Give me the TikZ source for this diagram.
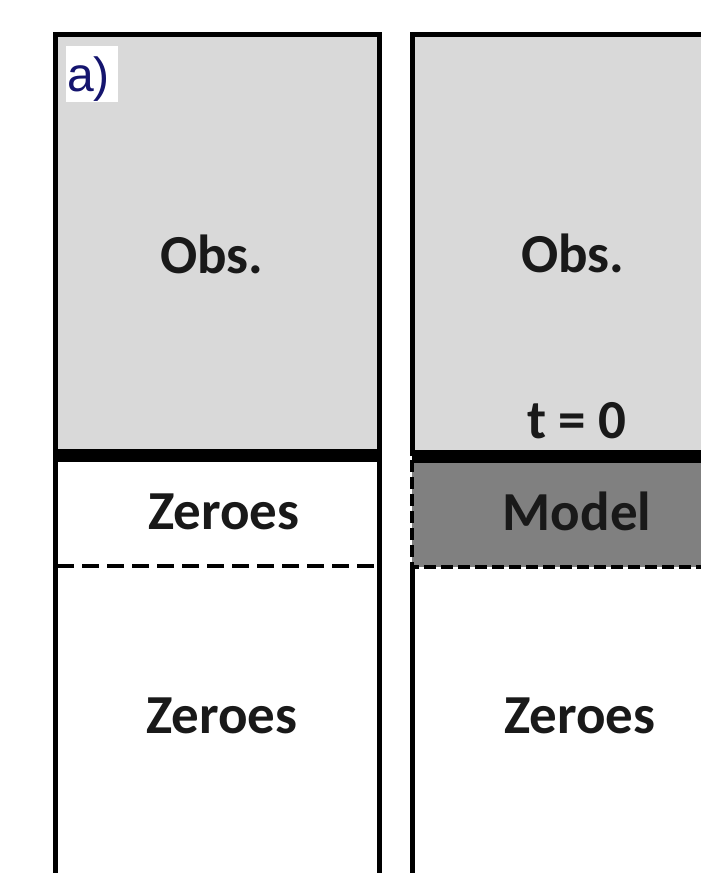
\documentclass[tikz,border=0pt]{standalone}
\usepackage{fontspec}
\setmainfont{Carlito}
\newfontfamily\arialf{Liberation Sans}
\definecolor{obsgray}{RGB}{217,217,217}
\definecolor{modelgray}{RGB}{128,128,128}
\definecolor{labnavy}{RGB}{20,20,110}
\tikzset{
  border/.style={line width=5pt, black},
  heavy/.style={line width=13pt, black},
  dashline/.style={line width=4pt, black, dash pattern=on 17pt off 8pt},
  lbl/.style={anchor=base, inner sep=0pt, font=\fontsize{55}{66}\selectfont\bfseries, text=black!90},
}
\begin{document}
\begin{tikzpicture}[x=1pt,y=-1pt]
\useasboundingbox (0,0) rectangle (701,873);
\fill[white] (0,0) rectangle (701,873);
\clip (0,0) rectangle (701,873);
% fills
\fill[obsgray] (55,34) rectangle (379.5,455);
\fill[obsgray] (412,34) rectangle (720,456);
\fill[modelgray] (412,456) rectangle (720,567);
% left column
\draw[border] (55,900) -- (55,34) -- (379.5,34) -- (379.5,900);
\draw[heavy] (55,455) -- (379.5,455);
\draw[dashline] (57,566) -- (378,566);
% right column
\draw[border] (412,456) -- (412,34) -- (720,34);
\draw[border] (412,567) -- (412,900);
\draw[heavy] (412,456) -- (720,456);
\draw[line width=4.5pt, black, dash pattern=on 12pt off 5pt] (412,460) -- (412,567) -- (720,567);
% label box
\fill[white] (66,46) rectangle (118,102);
\node[anchor=base west, inner sep=0pt, font=\arialf\fontsize{48}{52}\selectfont, text=labnavy] (lab) at (67,91) {a)};
% texts
\node[lbl] (obsL) at (212,273) {Obs.};
\node[lbl] (obsR) at (573,272) {Obs.};
\node[lbl] (t0) at (577,438) {t = 0};
\node[lbl] (zerL1) at (224,529) {Zeroes};
\node[lbl] (model) at (577,530) {Model};
\node[lbl] (zerL2) at (222,733) {Zeroes};
\node[lbl] (zerR) at (580,733) {Zeroes};
\end{tikzpicture}
\end{document}
